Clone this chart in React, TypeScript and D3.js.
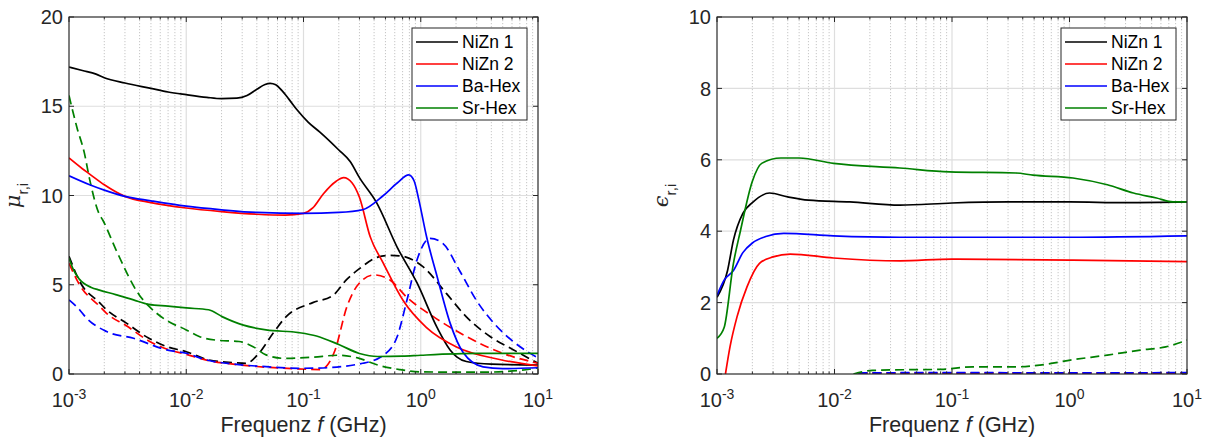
import React from 'react';
import * as d3 from 'd3';

type Pt = [number, number];

// ---------- shared axis data ----------
const freqDomain: [number, number] = [1e-3, 10];
const freqTicks = [1e-3, 1e-2, 1e-1, 1, 10];
const freqTickExp = ['-3', '-2', '-1', '0', '1'];
const seriesNames = ['NiZn 1', 'NiZn 2', 'Ba-Hex', 'Sr-Hex'];
const seriesColors = ['#000000', '#ff0000', '#0000ff', '#008000'];
const muTicks = [0, 5, 10, 15, 20];
const epsTicks = [0, 2, 4, 6, 8, 10];

// ---------- left panel: mu_r,i (solid) ----------
const muNiZn1Solid: Pt[] = [
  [0.001, 17.2], [0.0013, 17.0], [0.0017, 16.8], [0.002, 16.6], [0.003, 16.3], [0.005, 16.0],
  [0.007, 15.8], [0.01, 15.65], [0.015, 15.5], [0.02, 15.43], [0.027, 15.45], [0.033, 15.6],
  [0.04, 15.95], [0.047, 16.22], [0.052, 16.28], [0.058, 16.2], [0.065, 15.9], [0.075, 15.4], [0.088, 14.8],
  [0.11, 14.1], [0.138, 13.55], [0.2, 12.55], [0.25, 11.9], [0.3, 11.0], [0.42, 9.6],
  [0.63, 7.1], [0.93, 5.1], [1.38, 2.6], [1.78, 1.35], [2.04, 0.95], [2.45, 0.7], [4, 0.55], [10, 0.5],
];
const muNiZn2Solid: Pt[] = [
  [0.001, 12.1], [0.0013, 11.5], [0.0015, 11.2], [0.002, 10.6], [0.003, 9.95], [0.005, 9.6],
  [0.01, 9.3], [0.02, 9.1], [0.04, 8.95], [0.07, 8.9], [0.1, 9.0], [0.12, 9.3], [0.148, 10.1],
  [0.19, 10.8], [0.22, 11.0], [0.26, 10.7], [0.3, 9.9], [0.37, 7.7], [0.48, 6.2], [0.71, 4.1],
  [1.12, 2.6], [2.04, 1.5], [4.8, 0.8], [10, 0.45],
];
const muBaHexSolid: Pt[] = [
  [0.001, 11.1], [0.0015, 10.6], [0.002, 10.3], [0.003, 9.95], [0.005, 9.7], [0.01, 9.4],
  [0.02, 9.2], [0.04, 9.05], [0.1, 9.0], [0.2, 9.05], [0.32, 9.2], [0.48, 10.0], [0.63, 10.7],
  [0.79, 11.15], [0.88, 10.8], [0.96, 9.8], [1.12, 7.7], [1.38, 5.45], [1.78, 2.85], [2.3, 1.2],
  [3.4, 0.4], [5, 0.3], [10, 0.35],
];
const muSrHexSolid: Pt[] = [
  [0.001, 6.5], [0.00108, 5.9], [0.00123, 5.3], [0.00155, 4.85], [0.00182, 4.7], [0.0025, 4.45],
  [0.00355, 4.15], [0.0048, 3.9], [0.007, 3.8], [0.01, 3.7], [0.0155, 3.6], [0.0204, 3.2],
  [0.0302, 2.75], [0.0479, 2.47], [0.0912, 2.32], [0.129, 2.13], [0.2, 1.65], [0.3, 1.15],
  [0.43, 0.98], [0.7, 1.0], [1, 1.05], [3, 1.15], [10, 1.15],
];

// ---------- left panel: mu_r,i (dashed) ----------
const muNiZn1Dashed: Pt[] = [
  [0.001, 6.6], [0.00123, 5.2], [0.00182, 4.0], [0.00209, 3.6], [0.00309, 2.85], [0.0048, 2.0],
  [0.0068, 1.54], [0.01, 1.25], [0.0155, 0.79], [0.0251, 0.64], [0.0324, 0.6], [0.0417, 1.16],
  [0.055, 2.28], [0.0708, 3.2], [0.12, 4.0], [0.178, 4.4], [0.234, 5.3], [0.3, 5.9], [0.43, 6.55],
  [0.55, 6.65], [0.7, 6.6], [0.85, 6.4], [1.05, 6.0], [1.66, 4.5], [2.45, 3.2], [3.9, 2.1],
  [6.2, 1.35], [10, 0.6],
];
const muNiZn2Dashed: Pt[] = [
  [0.001, 6.2], [0.00123, 5.0], [0.00182, 3.8], [0.00209, 3.4], [0.00309, 2.7], [0.0048, 1.85],
  [0.0068, 1.4], [0.01, 1.1], [0.0155, 0.75], [0.0251, 0.55], [0.04, 0.42], [0.08, 0.3],
  [0.14, 0.25], [0.16, 0.5], [0.185, 1.3], [0.234, 3.75], [0.3, 5.1], [0.4, 5.55], [0.55, 5.25],
  [0.76, 4.3], [1.29, 3.2], [2.45, 2.1], [4.8, 1.2], [10, 0.6],
];
const muBaHexDashed: Pt[] = [
  [0.001, 4.15], [0.00123, 3.6], [0.00138, 3.2], [0.00209, 2.38], [0.00355, 2.0], [0.0068, 1.35],
  [0.01, 1.16], [0.0148, 0.79], [0.0251, 0.56], [0.0479, 0.41], [0.0912, 0.32], [0.13, 0.33],
  [0.32, 0.6], [0.48, 1.05], [0.63, 2.1], [0.76, 4.1], [0.93, 6.4], [1.2, 7.6], [1.55, 7.3],
  [2.14, 5.8], [3, 4.1], [4.2, 2.85], [6.2, 1.8], [10, 0.9],
];
const muSrHexDashed: Pt[] = [
  [0.001, 15.6], [0.00117, 13.8], [0.00135, 12.4], [0.0015, 10.9], [0.0018, 9.0], [0.00195, 8.6],
  [0.0025, 7.0], [0.004, 4.4], [0.0048, 3.8], [0.0068, 3.0], [0.01, 2.47], [0.0129, 2.1],
  [0.0178, 1.9], [0.0282, 1.82], [0.0372, 1.53], [0.0479, 1.07], [0.0676, 0.88], [0.12, 0.94],
  [0.195, 1.05], [0.29, 0.9], [0.43, 0.5], [0.66, 0.25], [1, 0.12], [3.2, 0.1], [7, 0.2], [10, 0.35],
];

// ---------- right panel: eps_r,i (solid) ----------
const epsNiZn1Solid: Pt[] = [
  [0.001, 2.15], [0.00123, 2.9], [0.00138, 3.75], [0.00166, 4.5], [0.002, 4.8], [0.0028, 5.07],
  [0.004, 4.96], [0.006, 4.87], [0.0135, 4.82], [0.036, 4.73], [0.1, 4.79], [0.3, 4.82],
  [1, 4.82], [3, 4.8], [10, 4.82],
];
const epsNiZn2Solid: Pt[] = [
  [0.00118, 0], [0.00129, 0.76], [0.00148, 1.6], [0.0018, 2.44], [0.0023, 3.1], [0.003, 3.28],
  [0.0042, 3.36], [0.0098, 3.25], [0.036, 3.17], [0.1, 3.22], [1, 3.19], [10, 3.15],
];
const epsBaHexSolid: Pt[] = [
  [0.001, 2.2], [0.00115, 2.63], [0.00138, 2.9], [0.00166, 3.4], [0.002, 3.67], [0.0026, 3.85],
  [0.0037, 3.94], [0.0098, 3.87], [0.036, 3.83], [1, 3.83], [10, 3.87],
];
const epsSrHexSolid: Pt[] = [
  [0.001, 1.0], [0.00115, 1.3], [0.00138, 3.1], [0.00158, 4.0], [0.002, 5.4], [0.0024, 5.9],
  [0.0035, 6.05], [0.005, 6.05], [0.0098, 5.9], [0.036, 5.77], [0.095, 5.66], [0.35, 5.63],
  [0.49, 5.57], [1.07, 5.49], [2.1, 5.3], [3.5, 5.07], [5.5, 4.93], [7.6, 4.82], [10, 4.82],
];

// ---------- right panel: eps_r,i (dashed) ----------
const epsNiZn1Dashed: Pt[] = [[0.016, 0.02], [0.1, 0.02], [1, 0.02], [10, 0.03]];
const epsNiZn2Dashed: Pt[] = [[0.016, 0.03], [0.1, 0.03], [1, 0.03], [10, 0.03]];
const epsBaHexDashed: Pt[] = [[0.016, 0.03], [0.1, 0.04], [1, 0.03], [10, 0.04]];
const epsSrHexDashed: Pt[] = [
  [0.0145, 0], [0.021, 0.1], [0.04, 0.12], [0.08, 0.13], [0.15, 0.2], [0.35, 0.2], [0.56, 0.25],
  [1.07, 0.4], [2.1, 0.53], [4, 0.67], [6.6, 0.76], [10, 0.95],
];

const FONT = "'Liberation Sans', Arial, Helvetica, sans-serif";
const AX = '#262626';

interface PanelProps {
  id: string;
  left: number;
  right: number;
  top: number;
  bottom: number;
  yMax: number;
  yTicks: number[];
  solid: Pt[][];
  dashed: Pt[][];
  symbol: string;
}

function Panel(p: PanelProps) {
  const x = d3.scaleLog().domain(freqDomain).range([p.left, p.right]);
  const y = d3.scaleLinear().domain([0, p.yMax]).range([p.bottom, p.top]);
  const line = d3
    .line<Pt>()
    .x((d) => x(d[0]))
    .y((d) => y(d[1]))
    .curve(d3.curveMonotoneX);
  const all = x.ticks();
  const minor = all.filter((v) => {
    const l = Math.log10(v);
    return Math.abs(l - Math.round(l)) > 1e-6;
  });
  const lg = { x: p.right - 11 - 115, y: p.top + 11, w: 115, h: 92 };
  return (
    <g>
      <defs>
        <clipPath id={`clip-${p.id}`}>
          <rect x={p.left} y={p.top} width={p.right - p.left} height={p.bottom - p.top} />
        </clipPath>
      </defs>
      <rect x={p.left} y={p.top} width={p.right - p.left} height={p.bottom - p.top} fill="#fff" />
      {minor.map((v, i) => (
        <line key={`mg${i}`} x1={x(v)} x2={x(v)} y1={p.top} y2={p.bottom} stroke="#b8b8b8"
          strokeWidth={0.8} strokeDasharray="1.2,1.8" />
      ))}
      {freqTicks.map((v, i) => (
        <line key={`gx${i}`} x1={x(v)} x2={x(v)} y1={p.top} y2={p.bottom} stroke="#dedede" strokeWidth={1.2} />
      ))}
      {p.yTicks.map((v, i) => (
        <line key={`gy${i}`} x1={p.left} x2={p.right} y1={y(v)} y2={y(v)} stroke="#dedede" strokeWidth={1.2} />
      ))}
      <g clipPath={`url(#clip-${p.id})`}>
        {p.dashed.map((d, i) => (
          <path key={`d${i}`} d={line(d) || ''} fill="none" stroke={seriesColors[i]} strokeWidth={1.7}
            strokeDasharray="9,5" />
        ))}
        {p.solid.map((d, i) => (
          <path key={`s${i}`} d={line(d) || ''} fill="none" stroke={seriesColors[i]} strokeWidth={1.7} />
        ))}
      </g>
      {freqTicks.map((v, i) => (
        <g key={`tx${i}`}>
          <line x1={x(v)} x2={x(v)} y1={p.bottom} y2={p.bottom - 5} stroke={AX} />
          <line x1={x(v)} x2={x(v)} y1={p.top} y2={p.top + 5} stroke={AX} />
        </g>
      ))}
      {minor.map((v, i) => (
        <g key={`mtx${i}`}>
          <line x1={x(v)} x2={x(v)} y1={p.bottom} y2={p.bottom - 2.5} stroke={AX} />
          <line x1={x(v)} x2={x(v)} y1={p.top} y2={p.top + 2.5} stroke={AX} />
        </g>
      ))}
      {p.yTicks.map((v, i) => (
        <g key={`ty${i}`}>
          <line x1={p.left} x2={p.left + 5} y1={y(v)} y2={y(v)} stroke={AX} />
          <line x1={p.right} x2={p.right - 5} y1={y(v)} y2={y(v)} stroke={AX} />
        </g>
      ))}
      <rect x={p.left} y={p.top} width={p.right - p.left} height={p.bottom - p.top} fill="none"
        stroke={AX} strokeWidth={1.1} />
      {freqTicks.map((v, i) => (
        <text key={`lx${i}`} x={x(v)} y={p.bottom + 33} textAnchor="middle" fontFamily={FONT}
          fontSize={20} fill={AX}>
          <tspan>10</tspan>
          <tspan dy={-8} fontSize={14}>{freqTickExp[i]}</tspan>
        </text>
      ))}
      {p.yTicks.map((v, i) => (
        <text key={`ly${i}`} x={p.left - 6} y={y(v)} dy="0.36em" textAnchor="end" fontFamily={FONT}
          fontSize={20} fill={AX}>
          {v}
        </text>
      ))}
      <text x={(p.left + p.right) / 2} y={432} textAnchor="middle" fontFamily={FONT} fontSize={21.5} fill={AX}>
        Frequenz <tspan fontStyle="italic">f</tspan> (GHz)
      </text>
      <text transform={`translate(${p.left - 49},${(p.top + p.bottom) / 2}) rotate(-90)`} textAnchor="middle"
        fontFamily={FONT} fontSize={21} fill={AX}>
        <tspan fontStyle="italic" fontFamily="'DejaVu Serif', serif">{p.symbol}</tspan>
        <tspan dy={8} fontSize={15}>r,i</tspan>
      </text>
      <rect x={lg.x} y={lg.y} width={lg.w} height={lg.h} fill="#fff" stroke={AX} strokeWidth={1} />
      {seriesNames.map((n, i) => (
        <g key={`lg${i}`}>
          <line x1={lg.x + 4} x2={lg.x + 46} y1={lg.y + 14 + 22 * i} y2={lg.y + 14 + 22 * i}
            stroke={seriesColors[i]} strokeWidth={1.7} />
          <text x={lg.x + 50} y={lg.y + 14 + 22 * i} dy="0.36em" fontFamily={FONT} fontSize={17.5} fill="#000">
            {n}
          </text>
        </g>
      ))}
    </g>
  );
}

export default function App() {
  return (
    <svg width={1209} height={439} style={{ position: 'absolute', left: 0, top: 0, background: '#fff' }}>
      <rect width={1209} height={439} fill="#fff" />
      <Panel id="mu" left={69} right={538} top={17} bottom={374} yMax={20} yTicks={muTicks}
        solid={[muNiZn1Solid, muNiZn2Solid, muBaHexSolid, muSrHexSolid]}
        dashed={[muNiZn1Dashed, muNiZn2Dashed, muBaHexDashed, muSrHexDashed]}
        symbol="μ" />
      <Panel id="eps" left={717} right={1187} top={17} bottom={374} yMax={10} yTicks={epsTicks}
        solid={[epsNiZn1Solid, epsNiZn2Solid, epsBaHexSolid, epsSrHexSolid]}
        dashed={[epsNiZn1Dashed, epsNiZn2Dashed, epsBaHexDashed, epsSrHexDashed]}
        symbol="ϵ" />
    </svg>
  );
}
